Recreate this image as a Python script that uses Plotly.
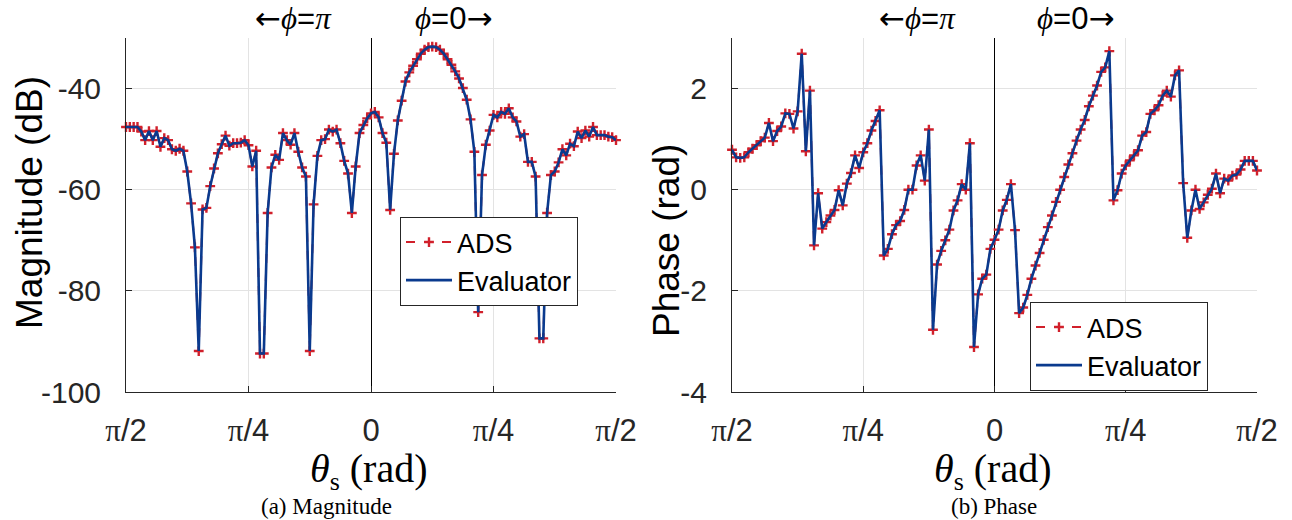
import numpy as np
import plotly.graph_objects as go

# Steering angle theta_s (rad): 129 samples, phi = pi half on the left, phi = 0 on the right
theta = np.linspace(-np.pi / 2, np.pi / 2, 129)

# Array factor magnitude (dB)
mag_db = [
    -47.6, -47.6, -47.6, -47.6, -48.5, -50.2, -48.4, -50.2, -48.4, -51.5,
    -49.8, -50.2, -52.0, -52.3, -51.9, -52.3, -56.4, -62.7, -71.4, -91.9,
    -63.9, -63.6, -59.3, -55.8, -52.8, -51.0, -49.3, -51.3, -50.8, -50.8,
    -50.7, -50.2, -51.2, -55.4, -52.3, -92.4, -92.4, -64.6, -55.6, -53.1,
    -54.1, -48.8, -50.2, -51.1, -48.8, -52.5, -55.6, -57.4, -91.9, -62.9,
    -53.3, -50.2, -50.0, -48.1, -48.5, -48.1, -50.8, -54.3, -56.8, -64.6,
    -55.4, -48.8, -47.2, -45.9, -44.9, -44.6, -45.7, -48.8, -50.7, -64.0,
    -52.9, -46.3, -42.4, -38.6, -36.8, -35.5, -34.2, -33.1, -32.3, -31.8,
    -31.7, -31.8, -32.3, -33.1, -34.2, -35.3, -36.6, -38.0, -39.9, -42.2,
    -46.1, -52.5, -84.2, -57.1, -51.1, -48.3, -45.2, -45.7, -44.6, -45.0,
    -43.9, -45.7, -46.5, -49.5, -49.0, -54.5, -54.5, -57.4, -89.4, -89.4,
    -64.6, -57.1, -56.4, -54.6, -52.0, -53.2, -50.9, -51.4, -48.5, -49.8,
    -48.3, -49.5, -47.6, -49.2, -49.2, -49.2, -49.5, -49.6, -50.2,
]

# Array factor phase (rad)
phase_rad = [
    0.79, 0.64, 0.63, 0.64, 0.74, 0.81, 0.88, 0.96, 1.03, 1.32,
    0.96, 1.16, 1.25, 1.51, 1.50, 1.21, 1.55, 2.69, 0.76, 1.96,
    -1.10, -0.07, -0.77, -0.64, -0.51, -0.40, -0.01, -0.31, 0.12, 0.33,
    0.68, 0.43, 0.74, 0.92, 1.17, 1.36, 1.57, -1.30, -1.17, -0.88,
    -0.70, -0.62, -0.40, 0.00, 0.00, 0.48, 0.68, 0.18, 1.19, -2.77,
    -1.48, -1.21, -1.00, -0.79, -0.41, -0.21, 0.11, 0.00, 0.92, -3.11,
    -2.07, -1.76, -1.68, -1.17, -0.99, -0.79, -0.41, -0.20, 0.11, -0.80,
    -2.44, -2.33, -2.08, -1.76, -1.50, -1.25, -0.99, -0.74, -0.51, -0.24,
    0.00, 0.25, 0.50, 0.72, 0.97, 1.19, 1.38, 1.65, 1.86, 2.06,
    2.33, 2.42, 2.74, -0.21, -0.01, 0.32, 0.48, 0.58, 0.68, 0.78,
    1.07, 1.14, 1.50, 1.57, 1.67, 1.86, 1.96, 1.84, 2.26, 2.36,
    0.13, -0.95, -0.41, 0.00, -0.38, -0.25, -0.10, 0.02, 0.32, -0.07,
    0.22, 0.18, 0.28, 0.30, 0.40, 0.57, 0.57, 0.57, 0.38,
]

x_tickvals = [-np.pi / 2, -np.pi / 4, 0, np.pi / 4, np.pi / 2]
PI = "<span style='font-family:Liberation Serif'>π</span>"
x_ticktext = [PI + "/2", PI + "/4", "0", PI + "/4", PI + "/2"]
mag_ticks = [-100, -80, -60, -40]
phase_ticks = [-4, -2, 0, 2]

RED = "#d1202b"
BLUE = "#0a3a8e"
INK = "#262626"
GRID = "#e3e3e3"
SANS = "Liberation Sans"
SERIF = "Liberation Serif"

W, H = 1292, 520
left_px = (126, 616)
right_px = (732, 1257)
top_px, bottom_px = 38, 392
ydom = [(H - bottom_px) / H, (H - top_px) / H]

fig = go.Figure()

panels = [
    ("x", "y", "legend", mag_db),
    ("x2", "y2", "legend2", phase_rad),
]
for xa, ya, lg, vals in panels:
    fig.add_trace(go.Scatter(
        x=theta, y=vals, xaxis=xa, yaxis=ya, legend=lg, name="ADS",
        mode="lines+markers", cliponaxis=False,
        line=dict(color=RED, width=2, dash="dash"),
        marker=dict(symbol="cross-thin", size=7, line=dict(color=RED, width=2.4)),
    ))
    fig.add_trace(go.Scatter(
        x=theta, y=vals, xaxis=xa, yaxis=ya, legend=lg, name="Evaluator",
        mode="lines", cliponaxis=False,
        line=dict(color=BLUE, width=2.6),
    ))


def xaxis_cfg(px):
    return dict(
        domain=[px[0] / W, px[1] / W], range=[-np.pi / 2, np.pi / 2],
        tickvals=x_tickvals, ticktext=x_ticktext,
        ticks="inside", ticklen=6, tickcolor=INK, tickwidth=1,
        showline=True, linecolor=INK, linewidth=1,
        showgrid=True, gridcolor=GRID, gridwidth=1,
        zeroline=True, zerolinecolor="#000000", zerolinewidth=1,
        tickfont=dict(family=SANS, size=31, color=INK),
        ticklabelstandoff=11, automargin=False,
    )


def yaxis_cfg(rng, ticks, anchor):
    return dict(
        domain=ydom, range=rng, anchor=anchor,
        tickvals=ticks, ticktext=[str(t) for t in ticks],
        ticks="inside", ticklen=6, tickcolor=INK, tickwidth=1,
        showline=True, linecolor=INK, linewidth=1,
        showgrid=True, gridcolor=GRID, gridwidth=1, zeroline=False,
        tickfont=dict(family=SANS, size=30, color=INK),
        ticklabelstandoff=18, automargin=False,
    )


legend_common = dict(
    xanchor="left", yanchor="top", bgcolor="white",
    bordercolor=INK, borderwidth=1,
    font=dict(family=SANS, size=27, color="black"),
    tracegroupgap=0, itemwidth=46,
)

fig.update_layout(
    width=W, height=H,
    margin=dict(l=0, r=0, t=0, b=0, autoexpand=False),
    paper_bgcolor="white", plot_bgcolor="white",
    xaxis=dict(xaxis_cfg(left_px), anchor="y"),
    yaxis=yaxis_cfg([-100, -30], mag_ticks, "x"),
    xaxis2=dict(xaxis_cfg(right_px), anchor="y2"),
    yaxis2=yaxis_cfg([-4, 3], phase_ticks, "x2"),
    legend=dict(legend_common, x=400 / W, y=(H - 217) / H),
    legend2=dict(legend_common, x=1030 / W, y=(H - 302) / H),
    showlegend=True,
)

PHI = "<span style='font-family:Liberation Serif'><i>ϕ</i></span>"
PI_I = "<span style='font-family:Liberation Serif'><i>π</i></span>"
LARR = "<span style='font-family:DejaVu Sans'>←</span>"
RARR = "<span style='font-family:DejaVu Sans'>→</span>"
THETA = ("<i>θ</i><sub><span style='font-size:26px'>s</span></sub>"
         " (rad)")


def ann(x, y, text, size, family=SANS, angle=0):
    fig.add_annotation(
        x=x / W, y=(H - y) / H, xref="paper", yref="paper",
        text=text, showarrow=False, textangle=angle,
        font=dict(family=family, size=size, color="black"),
        xanchor="center", yanchor="middle",
    )


for cx_left, cx_right in [(293, 453), (917, 1075)]:
    ann(cx_left, 18, LARR + PHI + "=" + PI_I, 31)
    ann(cx_right, 18, PHI + "=0" + RARR, 31)

ann(30, 203, "Magnitude (dB)", 37, angle=-90)
ann(666, 241, "Phase (rad)", 37, angle=-90)
ann(369, 471, THETA, 40, family=SERIF)
ann(993, 471, THETA, 40, family=SERIF)
ann(326, 506, "(a) Magnitude", 23, family=SERIF)
ann(994, 506, "(b) Phase", 23, family=SERIF)

fig.write_html("out.html")
